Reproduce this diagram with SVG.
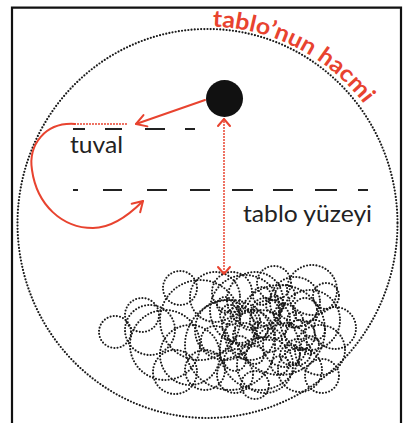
<svg xmlns="http://www.w3.org/2000/svg" width="404" height="423" viewBox="0 0 404 423">
  <style>
    .frame { fill: none; stroke: #111; stroke-width: 2.2; }
    .dots { fill: none; stroke: #1a1a1a; stroke-width: 2.2; stroke-linecap: round; stroke-dasharray: 0 3.2; }
    .scribble circle { fill: none; stroke: #1a1a1a; stroke-width: 2.1; stroke-linecap: round; stroke-dasharray: 0 3.2; }
    .dash { stroke: #222; stroke-width: 2; }
    .red { fill: none; stroke: #e8432f; stroke-width: 2; stroke-linecap: round; }
    .reddots { fill: none; stroke: #e8432f; stroke-width: 2; stroke-linecap: round; stroke-dasharray: 0 3; }
    .label { font-family: Lato, "Noto Sans", sans-serif; font-size: 24px; fill: #222; }
    .title { font-family: Lato, "Noto Sans", sans-serif; font-size: 23px; font-weight: bold; fill: #e8432f; }
  </style>
  <defs>
    <marker id="head" markerUnits="userSpaceOnUse" viewBox="-12 -8 14 16" markerWidth="14" markerHeight="16" refX="0" refY="0" orient="auto-start-reverse">
      <path d="M-10,-6 L0,0 L-10,6" fill="none" stroke="#e8432f" stroke-width="2" stroke-linecap="round" stroke-linejoin="round"/>
    </marker>
    <marker id="headSmall" markerUnits="userSpaceOnUse" viewBox="-10 -8 12 16" markerWidth="12" markerHeight="16" refX="0" refY="0" orient="auto-start-reverse">
      <path d="M-7,-6 L0,0 L-7,6" fill="none" stroke="#e8432f" stroke-width="2" stroke-linecap="round" stroke-linejoin="round"/>
    </marker>
    <path id="rim" d="M207.5,26.5 A197,197 0 0 1 392.6,156.1"/>
  </defs>

  <rect width="404" height="423" fill="#fff"/>
  <path class="frame" d="M12,430 V7.7 H401 V430"/>

  <!-- volume of the painting -->
  <g id="volume">
    <ellipse class="dots" cx="207.5" cy="223.5" rx="190" ry="194.5"/>
    <text class="title"><textPath href="#rim" startOffset="5" textLength="176" lengthAdjust="spacingAndGlyphs">tablo’nun hacmi</textPath></text>
  </g>

  <!-- viewer point -->
  <g id="viewer">
    <circle cx="224.5" cy="98.5" r="18.5" fill="#111"/>
  </g>

  <!-- canvas plane -->
  <g id="canvas">
    <g class="dash">
      <line x1="73" y1="129" x2="85" y2="129"/>
      <line x1="105" y1="129" x2="122" y2="129"/>
      <line x1="145" y1="129" x2="165" y2="129"/>
      <line x1="185" y1="129" x2="195" y2="129"/>
    </g>
    <text class="label" x="70" y="153" textLength="53" lengthAdjust="spacingAndGlyphs">tuval</text>
  </g>

  <!-- painting surface -->
  <g id="surface">
    <g class="dash">
      <line x1="73" y1="190" x2="78" y2="190"/>
      <line x1="103" y1="190" x2="122" y2="190"/>
      <line x1="147" y1="190" x2="167" y2="190"/>
      <line x1="190" y1="190" x2="210" y2="190"/>
      <line x1="232" y1="190" x2="253" y2="190"/>
      <line x1="273" y1="190" x2="293" y2="190"/>
      <line x1="315" y1="190" x2="337" y2="190"/>
      <line x1="358" y1="190" x2="368" y2="190"/>
    </g>
    <text class="label" x="243" y="222" textLength="129" lengthAdjust="spacingAndGlyphs">tablo yüzeyi</text>
  </g>

  <!-- tangle of paint -->
  <g id="tangle" class="scribble">
    <circle cx="115" cy="332" r="16"/>
    <circle cx="142" cy="315" r="17"/>
    <circle cx="180" cy="288" r="17"/>
    <circle cx="274" cy="283" r="17"/>
    <circle cx="312" cy="290" r="25"/>
    <circle cx="326" cy="296" r="13"/>
    <circle cx="335" cy="328" r="21"/>
    <circle cx="235" cy="375" r="18"/>
    <circle cx="300" cy="370" r="22"/>
    <circle cx="165" cy="345" r="35"/>
    <circle cx="200" cy="320" r="40"/>
    <circle cx="245" cy="310" r="35"/>
    <circle cx="280" cy="330" r="45"/>
    <circle cx="230" cy="345" r="45"/>
    <circle cx="260" cy="350" r="40"/>
    <circle cx="190" cy="355" r="30"/>
    <circle cx="310" cy="320" r="30"/>
    <circle cx="255" cy="300" r="28"/>
    <circle cx="215" cy="297" r="25"/>
    <circle cx="295" cy="302" r="25"/>
    <circle cx="250" cy="335" r="25"/>
    <circle cx="270" cy="320" r="20"/>
    <circle cx="240" cy="325" r="18"/>
    <circle cx="285" cy="345" r="22"/>
    <circle cx="225" cy="330" r="30"/>
    <circle cx="205" cy="370" r="20"/>
    <circle cx="320" cy="350" r="25"/>
    <circle cx="150" cy="330" r="25"/>
    <circle cx="265" cy="365" r="28"/>
    <circle cx="232" cy="292" r="20"/>
    <circle cx="175" cy="372" r="22"/>
    <circle cx="255" cy="385" r="14"/>
    <circle cx="322" cy="376" r="17"/>
    <circle cx="250" cy="320" r="10"/>
    <circle cx="270" cy="340" r="12"/>
    <circle cx="240" cy="345" r="9"/>
    <circle cx="285" cy="315" r="11"/>
    <circle cx="260" cy="330" r="8"/>
    <circle cx="230" cy="315" r="10"/>
    <circle cx="290" cy="355" r="10"/>
    <circle cx="255" cy="355" r="9"/>
    <circle cx="275" cy="305" r="9"/>
    <circle cx="245" cy="335" r="12"/>
    <circle cx="265" cy="312" r="14"/>
    <circle cx="300" cy="335" r="15"/>
    <circle cx="215" cy="340" r="14"/>
    <circle cx="295" cy="320" r="8"/>
    <circle cx="310" cy="345" r="9"/>
    <circle cx="235" cy="360" r="11"/>
    <circle cx="280" cy="365" r="9"/>
    <circle cx="262" cy="296" r="9"/>
    <circle cx="225" cy="305" r="8"/>
    <circle cx="305" cy="310" r="12"/>
    <circle cx="315" cy="330" r="10"/>
    <circle cx="298" cy="352" r="13"/>
    <circle cx="285" cy="295" r="10"/>
  </g>

  <!-- connectors -->
  <g id="connectors">
    <line class="red" x1="205" y1="100" x2="136" y2="124" marker-end="url(#head)"/>
    <line class="reddots" x1="75" y1="124" x2="128" y2="124"/>
    <path class="red" d="M75,124 C45,122 28,145 32,170 C37,205 62,228 93,228 C113,228 130,214 143,201" marker-end="url(#head)"/>
    <line class="reddots" x1="224" y1="119" x2="224" y2="274" marker-start="url(#headSmall)" marker-end="url(#headSmall)"/>
  </g>
</svg>
